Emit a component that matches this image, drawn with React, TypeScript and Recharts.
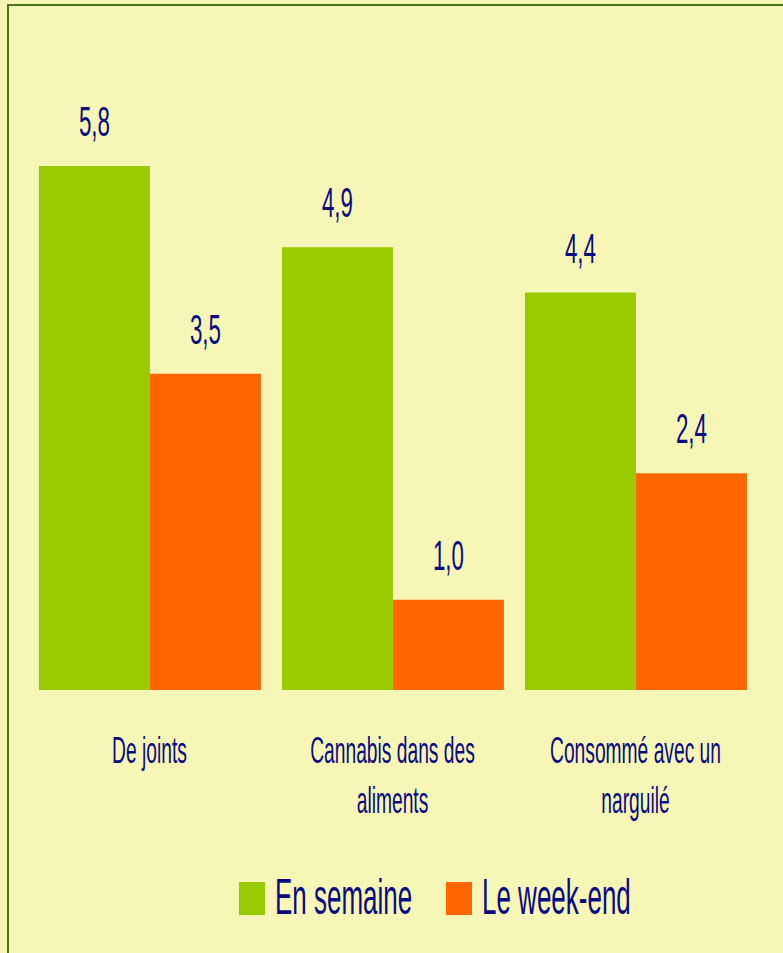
import React from "react";
import { BarChart, Bar, XAxis, YAxis, Legend, LabelList } from "recharts";

const categories = ["De joints", "Cannabis dans des\naliments", "Consommé avec un\nnarguilé"];
const enSemaine = [5.8, 4.9, 4.4];
const weekEnd = [3.5, 1.0, 2.4];
const seriesNames = ["En semaine", "Le week-end"];

const data = categories.map((c, i) => ({
  name: c,
  semaine: enSemaine[i],
  weekend: weekEnd[i],
}));

const INK = "#0b0b80";
const FONT = "'Liberation Sans', Arial, sans-serif";
const SQUEEZE = 0.52;

const fmt = (v: number) => v.toFixed(1).replace(".", ",");

function Narrow({ x, y, size, anchor = "middle", children }: any) {
  return (
    <text
      x={0}
      y={0}
      transform={`translate(${x},${y}) scale(${SQUEEZE},1)`}
      textAnchor={anchor}
      fontSize={size}
      fontFamily={FONT}
      fill={INK}
    >
      {children}
    </text>
  );
}

function ValueLabel(props: any) {
  const { x, y, width, value } = props;
  return (
    <Narrow x={x + width / 2} y={y - 30} size={43}>
      {fmt(value)}
    </Narrow>
  );
}

function CategoryTick({ x, y, payload }: any) {
  const lines = String(payload.value).split("\n");
  return (
    <g>
      {lines.map((l, i) => (
        <Narrow key={i} x={x} y={y + 73 + i * 50} size={37}>
          {l}
        </Narrow>
      ))}
    </g>
  );
}

function LegendBox({ payload }: any) {
  const starts = [239, 446];
  return (
    <svg width={783} height={60}>
      {(payload || []).map((p: any, i: number) => (
        <g key={i}>
          <rect x={starts[i]} y={12} width={26} height={33} fill={p.color} />
          <Narrow x={starts[i] + 36} y={44} size={50} anchor="start">
            {p.value}
          </Narrow>
        </g>
      ))}
    </svg>
  );
}

export default function App() {
  return (
    <div
      style={{
        position: "absolute",
        left: 0,
        top: 0,
        width: 783,
        height: 953,
        overflow: "hidden",
        background: "#f6f7b6",
      }}
    >
      <div
        style={{
          position: "absolute",
          left: 7,
          top: 4,
          width: 820,
          height: 1000,
          borderLeft: "2px solid #4b7612",
          borderTop: "2px solid #4b7612",
        }}
      />
      <div style={{ position: "absolute", left: 0, top: 0 }}>
        <BarChart
          width={783}
          height={953}
          data={data}
          margin={{ top: 148, right: 26, left: 28, bottom: 0 }}
          barCategoryGap="4.5%"
          barGap={0}
        >
          <YAxis hide domain={[0, 6]} />
          <XAxis
            dataKey="name"
            height={203}
            axisLine={false}
            tickLine={false}
            tickSize={0}
            tickMargin={0}
            interval={0}
            tick={<CategoryTick />}
          />
          <Legend
            verticalAlign="bottom"
            content={<LegendBox />}
            wrapperStyle={{ position: "absolute", left: 0, top: 870, width: 783, height: 60 }}
          />
          <Bar dataKey="semaine" name={seriesNames[0]} fill="#99cc00" isAnimationActive={false}>
            <LabelList dataKey="semaine" content={<ValueLabel />} />
          </Bar>
          <Bar dataKey="weekend" name={seriesNames[1]} fill="#ff6600" isAnimationActive={false}>
            <LabelList dataKey="weekend" content={<ValueLabel />} />
          </Bar>
        </BarChart>
      </div>
    </div>
  );
}
